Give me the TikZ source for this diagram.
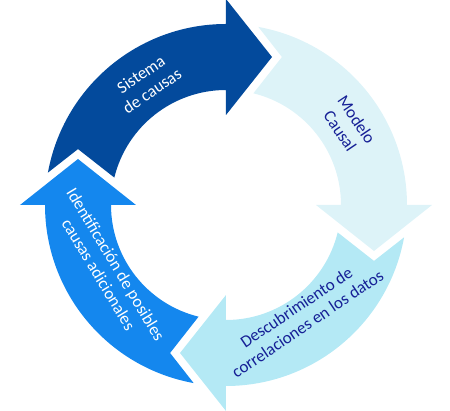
\documentclass[tikz,border=0pt]{standalone}
\usepackage{fontspec}
\setmainfont{Carlito}
\definecolor{dkblue}{RGB}{3,74,156}
\definecolor{midblue}{RGB}{20,135,238}
\definecolor{paleblue}{RGB}{221,243,248}
\definecolor{ltblue}{RGB}{180,233,245}
\definecolor{navytext}{RGB}{22,32,150}
\newcommand\cyclearrow[2]{%
  \fill[#2] (#1+79.7:181pt) arc[start angle=#1+79.7, end angle=#1, radius=181pt]
    -- (#1:206pt) -- (#1-17.27:155pt) -- (#1:90pt) -- (#1:115pt)
    arc[start angle=#1, end angle=#1+76.2, radius=115pt]
    -- (#1+69.3:158.2pt) -- cycle;}
\tikzset{lbl/.style={align=center, font=\fontsize{17}{20}\selectfont, inner sep=0pt}}
\begin{document}
\begin{tikzpicture}
\useasboundingbox (-226pt,-206pt) rectangle (224pt,205pt);
\coordinate (c) at (0,0);
\cyclearrow{90}{dkblue}
\cyclearrow{0}{paleblue}
\cyclearrow{-90}{ltblue}
\cyclearrow{180}{midblue}
\node[lbl, text=white, rotate=34] (sis) at (123:146pt) {Sistema\\de causas};
\node[lbl, text=navytext, rotate=-56] (mod) at (33:146pt) {Modelo\\Causal};
\node[lbl, text=navytext, rotate=34] (des) at (-55.5:134pt) {Descubrimiento de\\correlaciones en los datos};
\node[lbl, text=white, rotate=-59] (ide) at (208.5:135pt) {Identificación de posibles\\causas adicionales};
\end{tikzpicture}
\end{document}
